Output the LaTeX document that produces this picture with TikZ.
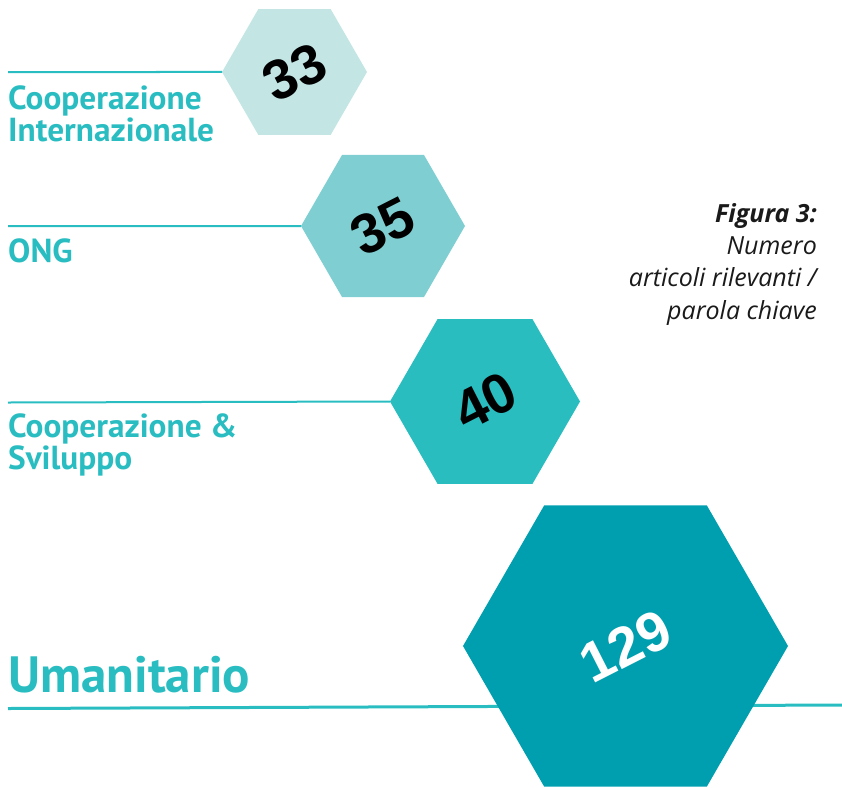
\documentclass[tikz,border=0pt]{standalone}
\usepackage{fontspec}
\setmainfont{PT Sans}
\newfontfamily\numfont{Liberation Sans}
\newfontfamily\capfont{Open Sans}
\usetikzlibrary{shapes.geometric}
\definecolor{tealtxt}{HTML}{29BDC1}
\definecolor{hexA}{HTML}{C3E6E5}
\definecolor{hexB}{HTML}{7FCFD2}
\definecolor{hexC}{HTML}{29BDBF}
\definecolor{hexD}{HTML}{009FAF}
\definecolor{captxt}{HTML}{1A1A1A}
\newcommand{\hexnum}[1]{\rotatebox{27}{#1}}
\begin{document}
\begin{tikzpicture}[x=1pt,y=-1pt,
  hexagon/.style={regular polygon, regular polygon sides=6, inner sep=0pt, outer sep=0pt, draw=none,
    font=\numfont\bfseries\fontsize{56}{56}\selectfont},
  hrule/.style={draw=tealtxt, line width=2pt},
  lbltext/.style={anchor=base west, inner sep=0pt, text=tealtxt, font=\bfseries\fontsize{33.3}{30}\selectfont, align=left}]
\useasboundingbox (0,0) rectangle (842,787);
% bottom rule behind the big hexagon
\coordinate (u0) at (8,708.5);
\coordinate (u1) at (842,705);
\draw[hrule, line width=3pt] (u0) -- (u1);
% hexagons with their numbers
\node[hexagon, fill=hexA, minimum size=145pt] (h1) at (294.5,72) {\hexnum{33}};
\node[hexagon, fill=hexB, minimum size=164pt] (h2) at (383,226) {\hexnum{35}};
\node[hexagon, fill=hexC, minimum size=190pt] (h3) at (485,401.5) {\hexnum{40}};
\node[hexagon, fill=hexD, minimum size=325pt, text=white] (h4) at (625.5,646) {\hexnum{129}};
% rules
\coordinate (r1) at (8,72);
\coordinate (r2) at (8,226);
\coordinate (r3) at (8,402.5);
\draw[hrule] (r1) -- (h1.west);
\draw[hrule] (r2) -- (h2.west);
\draw[hrule] (r3) -- (h3.west);
% labels
\node[lbltext] (t1) at (8,141) {Cooperazione\\Internazionale};
\node[lbltext] (t2) at (8,262) {ONG};
\node[lbltext] (t3) at (8,469) {Cooperazione \&\\Sviluppo};
\node[lbltext, font=\bfseries\fontsize{51}{51}\selectfont] (t4) at (8,692) {Umanitario};
% caption
\node[anchor=base east, inner sep=0pt, align=right, text=captxt, font=\capfont\itshape\fontsize{25}{32.3}\selectfont] (cap) at (817,319)
  {\textbf{Figura 3:}\\Numero\\articoli rilevanti /\\parola chiave};
\end{tikzpicture}
\end{document}
